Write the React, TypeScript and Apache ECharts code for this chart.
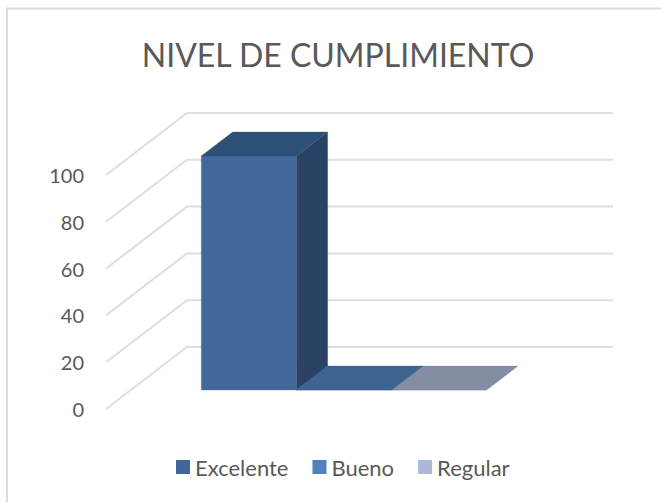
import React, { useEffect, useRef } from "react";
import * as echarts from "echarts";

const titleText = "NIVEL DE CUMPLIMIENTO";
const seriesNames = ["Excelente", "Bueno", "Regular"];
const seriesValues = [100, 0, 0];
const categoryLabels = ["Nivel"];
const gridTicks = [0, 20, 40, 60, 80, 100];
const legendColors = ["#3f6899", "#4f81bd", "#aab9d8"];
const frontColors = ["#41699a", "#41699a", "#838ea5"];
const sideColors = ["#2a4365", "#2a4365", "#5f6a80"];
const topColors = ["#2f5076", "#3d6491", "#838ea5"];

const FONT = "Lato, Carlito, 'Open Sans', sans-serif";
const WALL_DX = 81;
const WALL_DY = 62;
const NEAR = 0.306;
const BAR_DEPTH = 0.387;
const BAR_W = 95;

export default function App() {
  const ref = useRef<HTMLDivElement>(null);
  useEffect(() => {
    const chart = echarts.init(ref.current!, undefined, { renderer: "svg" });

    const gridSeries = {
      type: "custom",
      name: "grid",
      silent: true,
      z: 1,
      data: gridTicks.map((t) => [0, t]),
      encode: { x: 0, y: 1 },
      renderItem: (params: any, api: any) => {
        const y = api.coord([0, api.value(1)])[1];
        const cs = params.coordSys;
        return {
          type: "polyline",
          shape: {
            points: [
              [cs.x, y],
              [cs.x + WALL_DX, y - WALL_DY],
              [cs.x + cs.width + WALL_DX, y - WALL_DY],
            ],
          },
          style: { stroke: "#dedede", lineWidth: 2, fill: "none" },
        };
      },
    };

    const barSeries = seriesNames.map((name, i) => ({
      type: "custom",
      name,
      z: 2 + (seriesNames.length - i),
      itemStyle: { color: legendColors[i] },
      data: [[0, seriesValues[i]]],
      encode: { x: 0, y: 1 },
      renderItem: (params: any, api: any) => {
        const center = api.coord([0, 0])[0];
        const x0 = center + WALL_DX * (NEAR + BAR_DEPTH / 2) - 1.5 * BAR_W + i * BAR_W;
        const x = x0 - (WALL_DX * BAR_DEPTH) / 2;
        const zeroY = api.coord([0, 0])[1];
        const valY = api.coord([0, api.value(1)])[1];
        const near = WALL_DY * NEAR;
        const by = zeroY - near;
        const ty = valY - near;
        const dx = WALL_DX * BAR_DEPTH;
        const dy = WALL_DY * BAR_DEPTH;
        const poly = (points: number[][], color: string) => ({
          type: "polygon",
          shape: { points },
          style: { fill: color, stroke: color, lineWidth: 0.3 },
        });
        return {
          type: "group",
          children: [
            poly([[x + BAR_W, by], [x + BAR_W + dx, by - dy], [x + BAR_W + dx, ty - dy], [x + BAR_W, ty]], sideColors[i]),
            poly([[x, by], [x + BAR_W, by], [x + BAR_W, ty], [x, ty]], frontColors[i]),
            poly([[x, ty], [x + BAR_W, ty], [x + BAR_W + dx, ty - dy], [x + dx, ty - dy]], topColors[i]),
          ],
        };
      },
    }));

    chart.setOption({
      animation: false,
      backgroundColor: "#ffffff",
      title: {
        text: titleText,
        left: 333,
        top: 33,
        textAlign: "center",
        textStyle: { color: "#595959", fontFamily: FONT, fontWeight: "normal", fontSize: 32 },
      },
      legend: {
        data: seriesNames,
        left: 171,
        top: 451,
        icon: "rect",
        itemWidth: 14,
        itemHeight: 14,
        itemGap: 24,
        textStyle: { color: "#595959", fontFamily: FONT, fontSize: 22 },
      },
      grid: { left: 106, right: 129, top: 175, bottom: 93, containLabel: false },
      xAxis: {
        type: "category",
        data: categoryLabels,
        axisLine: { show: false },
        axisTick: { show: false },
        axisLabel: { show: false },
      },
      yAxis: {
        type: "value",
        min: 0,
        max: 100,
        interval: 20,
        axisLine: { show: false },
        axisTick: { show: false },
        splitLine: { show: false },
        axisLabel: { color: "#595959", fontFamily: FONT, fontSize: 20, margin: 22, padding: [0, 0, 2, 0] },
      },
      graphic: [
        {
          type: "polyline",
          silent: true,
          z: 0,
          shape: { points: [[7, 502], [7, 8.5], [661, 8.5]] },
          style: { fill: "none", stroke: "#dcdcdc", lineWidth: 2 },
        },
      ],
      series: [gridSeries, ...barSeries],
    });
    return () => chart.dispose();
  }, []);
  return <div ref={ref} style={{ position: "absolute", left: 0, top: 0, width: 661, height: 502 }} />;
}
